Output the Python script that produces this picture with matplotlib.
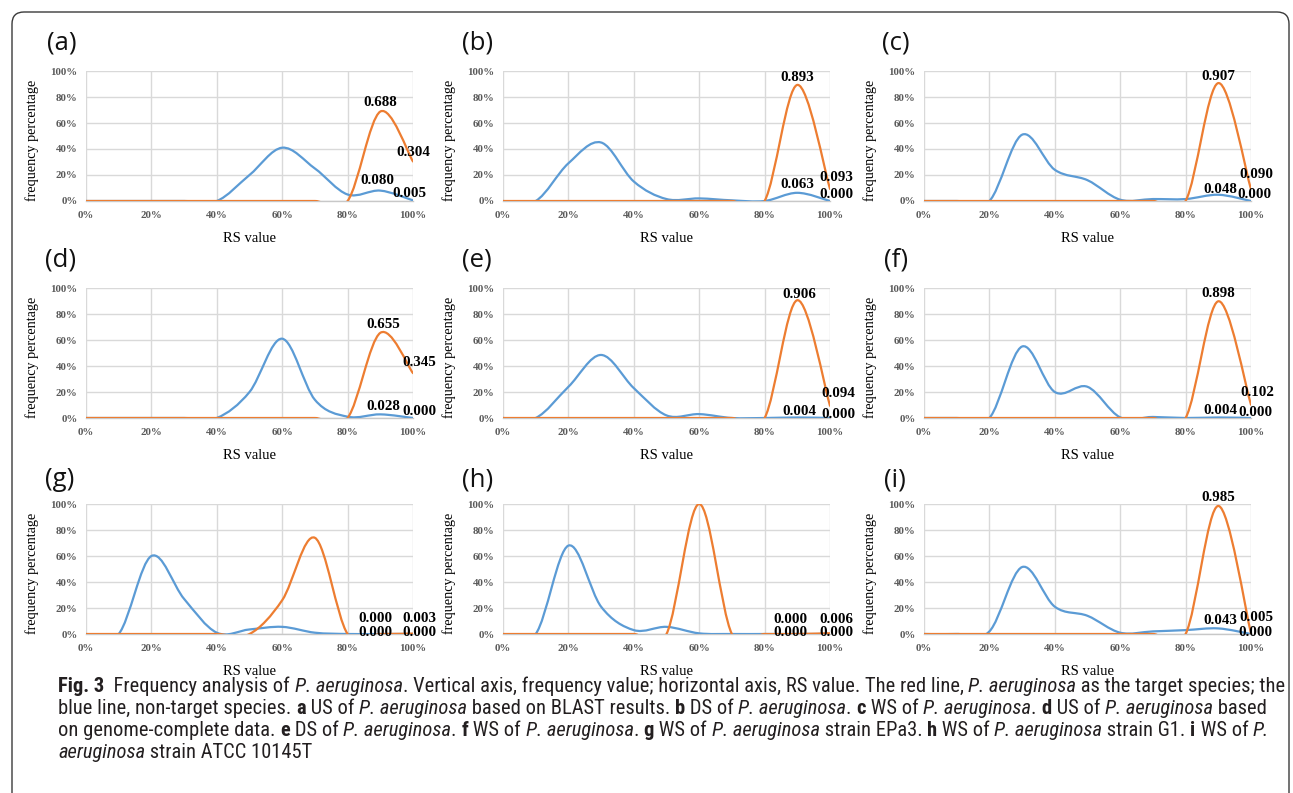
import numpy as np
import matplotlib
matplotlib.use('Agg')
import matplotlib.pyplot as plt
from matplotlib.path import Path
from matplotlib.patches import PathPatch, FancyBboxPatch
from matplotlib.transforms import IdentityTransform
from matplotlib.font_manager import FontProperties, fontManager

# ---------------- data ----------------
rs_values = [0.0, 0.1, 0.2, 0.3, 0.4, 0.5, 0.6, 0.7, 0.8, 0.9, 1.0]
x_ticks = [0.0, 0.2, 0.4, 0.6, 0.8, 1.0]
tick_labels = ['0%', '20%', '40%', '60%', '80%', '100%']
panel_letters = ['(a)', '(b)', '(c)', '(d)', '(e)', '(f)', '(g)', '(h)', '(i)']

blue_a = [0, 0, 0, 0, 0, 0.20, 0.41, 0.25, 0.05, 0.080, 0.005]
orange_a = [0, 0, 0, 0, 0, 0, 0, 0, 0, 0.688, 0.304]
blue_b = [0, 0, 0.29, 0.45, 0.15, 0.015, 0.02, 0.005, 0, 0.063, 0.000]
orange_b = [0, 0, 0, 0, 0, 0, 0, 0, 0, 0.893, 0.093]
blue_c = [0, 0, 0, 0.51, 0.24, 0.16, 0.01, 0.015, 0.015, 0.048, 0.000]
orange_c = [0, 0, 0, 0, 0, 0, 0, 0, 0, 0.907, 0.090]
blue_d = [0, 0, 0, 0, 0, 0.20, 0.61, 0.14, 0.01, 0.028, 0.000]
orange_d = [0, 0, 0, 0, 0, 0, 0, 0, 0, 0.655, 0.345]
blue_e = [0, 0, 0.24, 0.485, 0.23, 0.02, 0.03, 0, 0, 0.004, 0.000]
orange_e = [0, 0, 0, 0, 0, 0, 0, 0, 0, 0.906, 0.094]
blue_f = [0, 0, 0, 0.55, 0.20, 0.24, 0.005, 0.008, 0, 0.004, 0.000]
orange_f = [0, 0, 0, 0, 0, 0, 0, 0, 0, 0.898, 0.102]
blue_g = [0, 0, 0.60, 0.27, 0.01, 0.035, 0.055, 0.01, 0, 0.000, 0.000]
orange_g = [0, 0, 0, 0, 0, 0, 0.26, 0.74, 0, 0.000, 0.003]
blue_h = [0, 0, 0.68, 0.21, 0.03, 0.055, 0.005, 0, 0, 0.000, 0.000]
orange_h = [0, 0, 0, 0, 0, 0, 1.0, 0, 0, 0.000, 0.006]
blue_i = [0, 0, 0.02, 0.515, 0.21, 0.14, 0.01, 0.02, 0.03, 0.043, 0.000]
orange_i = [0, 0, 0, 0, 0, 0, 0, 0, 0, 0.985, 0.005]

blue_series = [blue_a, blue_b, blue_c, blue_d, blue_e, blue_f, blue_g, blue_h, blue_i]
orange_series = [orange_a, orange_b, orange_c, orange_d, orange_e, orange_f, orange_g, orange_h, orange_i]

# label positions (axes data coords) for [orange@0.9, orange@1.0, blue@0.9, blue@1.0]
label_pos = [
    [(0.90, 0.76), (1.00, 0.37), (0.89, 0.16), (0.99, 0.06)],
    [(0.90, 0.95), (1.02, 0.18), (0.90, 0.13), (1.02, 0.05)],
    [(0.90, 0.96), (1.015, 0.20), (0.905, 0.09), (1.01, 0.05)],
    [(0.91, 0.72), (1.02, 0.43), (0.91, 0.085), (1.02, 0.05)],
    [(0.905, 0.95), (1.025, 0.185), (0.905, 0.05), (1.025, 0.03)],
    [(0.90, 0.96), (1.02, 0.20), (0.905, 0.06), (1.015, 0.04)],
    [(0.885, 0.12), (1.02, 0.12), (0.885, 0.01), (1.02, 0.01)],
    [(0.88, 0.115), (1.02, 0.115), (0.88, 0.01), (1.02, 0.015)],
    [(0.90, 1.05), (1.015, 0.13), (0.905, 0.10), (1.015, 0.01)],
]

# ---------------- layout ----------------
W, H = 1293, 793
fig = plt.figure(figsize=(W / 100, H / 100), dpi=100)
fig.patch.set_facecolor('white')
plt.rcParams['font.family'] = ['Liberation Serif', 'DejaVu Serif']

col_left = [86, 503, 924]
row_top = [71, 288, 504]
ax_w, ax_h = 327, 130
letter_pos = [(47, 43), (462, 43), (882, 43),
              (45, 260), (462, 260), (884, 260),
              (45, 480), (462, 480), (884, 480)]

BLUE = '#5B9BD5'
ORANGE = '#ED7D31'


def smooth_path(xs, ys):
    pts = np.column_stack([xs, ys]).astype(float)
    n = len(pts)
    verts = [pts[0]]
    codes = [Path.MOVETO]
    for i in range(n - 1):
        p0 = pts[i - 1] if i > 0 else pts[i]
        p1 = pts[i]
        p2 = pts[i + 1]
        p3 = pts[i + 2] if i + 2 < n else pts[i + 1]
        c1 = p1 + (p2 - p0) / 6.0
        c2 = p2 - (p3 - p1) / 6.0
        verts += [c1, c2, p2]
        codes += [Path.CURVE4] * 3
    return Path(np.array(verts), codes)


names = {f.name for f in fontManager.ttflist}
letter_family = 'DejaVu Sans'
for cand in ['Open Sans', 'Noto Sans', 'Liberation Sans']:
    if cand in names:
        letter_family = cand
        break

for k in range(9):
    r, c = divmod(k, 3)
    left = col_left[c]
    top = row_top[r]
    ax = fig.add_axes([left / W, 1 - (top + ax_h) / H, ax_w / W, ax_h / H])
    ax.set_xlim(0, 1)
    ax.set_ylim(0, 1)
    ax.set_xticks(x_ticks)
    ax.set_xticklabels(tick_labels)
    ax.set_yticks(x_ticks)
    ax.set_yticklabels(tick_labels)
    ax.grid(True, color='#d9d9d9', lw=1.0)
    ax.set_axisbelow(True)
    for s in ['top', 'right', 'left']:
        ax.spines[s].set_visible(False)
    ax.spines['bottom'].set_color('#c8c8c8')
    ax.spines['bottom'].set_linewidth(1.0)
    ax.tick_params(axis='both', length=0, labelsize=7.8, labelcolor='#5a5a5a')
    ax.tick_params(axis='x', pad=7)
    ax.tick_params(axis='y', pad=6)
    for lab in ax.get_xticklabels() + ax.get_yticklabels():
        lab.set_fontweight('bold')
    ax.set_ylabel('frequency percentage', fontsize=10.2)
    ax.yaxis.set_label_coords(-0.143, 0.47)
    ax.set_xlabel('RS value', fontsize=10.5)
    ax.xaxis.set_label_coords(0.5, -0.285)
    ax.xaxis.label.set_va('center')

    for series, color in [(blue_series[k], BLUE), (orange_series[k], ORANGE)]:
        patch = PathPatch(smooth_path(rs_values, series), fill=False, edgecolor=color,
                          lw=1.6, capstyle='round', joinstyle='round', zorder=3)
        ax.add_patch(patch)

    vals = [orange_series[k][9], orange_series[k][10], blue_series[k][9], blue_series[k][10]]
    for (lx, ly), v in zip(label_pos[k], vals):
        ax.text(lx, ly, f'{v:.3f}', fontsize=10.8, fontweight='bold', color='black',
                ha='center', va='center', zorder=5)

    lxp, lyp = letter_pos[k]
    fig.text(lxp / W, 1 - lyp / H, panel_letters[k], fontsize=18.5,
             family=[letter_family, 'DejaVu Sans'], ha='left', va='center',
             color='#111111')

# ---------------- border ----------------
box = FancyBboxPatch((12, -40), 1277, 781 + 40, boxstyle='round,pad=0,rounding_size=12',
                     transform=IdentityTransform(), fill=False, edgecolor='#3a3a3a', lw=1.0)
fig.add_artist(box)

# ---------------- caption ----------------
cap_family = 'DejaVu Sans'
for cand in ['Liberation Sans Narrow', 'Roboto Condensed', 'Open Sans Condensed', 'Noto Sans', 'DejaVu Sans']:
    if cand in names:
        cap_family = cand
        break

N, B, I = 'n', 'b', 'i'
PA = 'P. aeruginosa'
caption_lines = [
    [('Fig. 3', B), ('  Frequency analysis of ', N), (PA, I),
     ('. Vertical axis, frequency value; horizontal axis, RS value. The red line, ', N), (PA, I),
     (' as the target species; the', N)],
    [('blue line, non-target species. ', N), ('a', B), (' US of ', N), (PA, I),
     (' based on BLAST results. ', N), ('b', B), (' DS of ', N), (PA, I), ('. ', N),
     ('c', B), (' WS of ', N), (PA, I), ('. ', N), ('d', B), (' US of ', N), (PA, I), (' based', N)],
    [('on genome-complete data. ', N), ('e', B), (' DS of ', N), (PA, I), ('. ', N),
     ('f', B), (' WS of ', N), (PA, I), ('. ', N), ('g', B), (' WS of ', N), (PA, I),
     (' strain EPa3. ', N), ('h', B), (' WS of ', N), (PA, I), (' strain G1. ', N),
     ('i', B), (' WS of ', N), ('P.', I)],
    [('aeruginosa', I), (' strain ATCC 10145T', N)],
]

renderer = fig.canvas.get_renderer()


def fp_for(style, size):
    if style == B:
        return FontProperties(family=cap_family, size=size, weight='bold')
    if style == I:
        return FontProperties(family=cap_family, size=size, style='italic')
    return FontProperties(family=cap_family, size=size)


def run_width(s, fp):
    t = fig.text(0, 0, 'x' + s + 'x', fontproperties=fp)
    w1 = t.get_window_extent(renderer).width
    t.remove()
    t = fig.text(0, 0, 'xx', fontproperties=fp)
    w0 = t.get_window_extent(renderer).width
    t.remove()
    return w1 - w0


base = 12.0
w_line1 = sum(run_width(s, fp_for(st, base)) for s, st in caption_lines[0])
cap_size = base * 1225.0 / w_line1

baselines = [692, 714, 736, 758]
for line, yb in zip(caption_lines, baselines):
    x = 58.0
    for s, st in line:
        fp = fp_for(st, cap_size)
        fig.text(x / W, 1 - yb / H, s, fontproperties=fp, color='#231f20',
                 ha='left', va='baseline')
        x += run_width(s, fp)

fig.savefig('out.png', dpi=100, facecolor='white')
